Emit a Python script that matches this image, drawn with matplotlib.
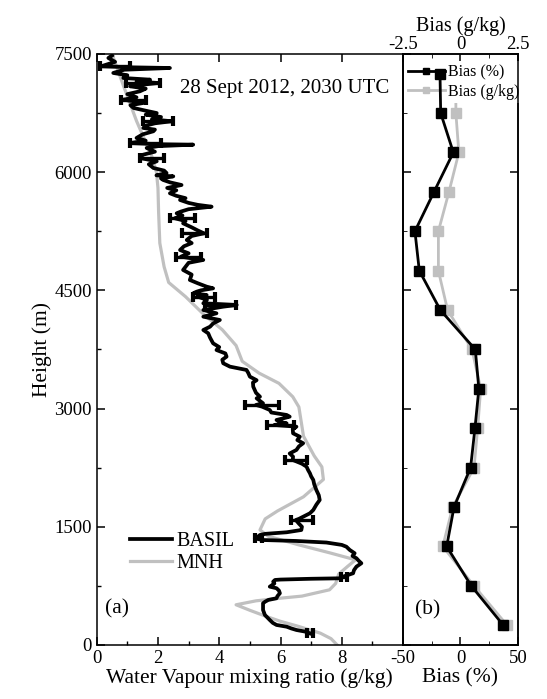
import matplotlib
matplotlib.use("Agg")
import matplotlib.pyplot as plt
import numpy as np

plt.rcParams["font.family"] = ["Liberation Serif", "DejaVu Serif"]
plt.rcParams["font.size"] = 13.5
plt.rcParams["axes.unicode_minus"] = False

# BASIL lidar water vapour profile (height m, mixing ratio g/kg)
basil_h = [7480, 7449, 7400, 7344, 7330, 7322, 7300, 7259, 7230, 7195, 7174, 7150,
           7132, 7110, 7090, 7060, 7026, 6990, 6950, 6920, 6900, 6878, 6850, 6815,
           6780, 6750, 6730, 6700, 6670, 6646, 6620, 6590, 6561, 6540, 6519, 6480,
           6434, 6400, 6370, 6355, 6349, 6330, 6307, 6260, 6220, 6180, 6138, 6100,
           6053, 6020, 5989, 5960, 5947, 5920, 5901, 5870, 5837, 5800, 5770, 5732,
           5700, 5670, 5647, 5610, 5585, 5562, 5530, 5500, 5478, 5450, 5415, 5380,
           5351, 5300, 5260, 5224, 5190, 5139, 5100, 5060, 5012, 4970, 4928, 4900,
           4886, 4850, 4800, 4759, 4700, 4632, 4590, 4547, 4526, 4500, 4483, 4463,
           4441, 4420, 4380, 4336, 4315, 4293, 4251, 4209, 4166, 4124, 4080, 4039,
           3997, 3955, 3900, 3828, 3780, 3743, 3700, 3659, 3620, 3575, 3532, 3490,
           3450, 3405, 3360, 3330, 3278, 3200, 3151, 3130, 3090, 3067, 3046, 3024,
           2982, 2950, 2919, 2897, 2855, 2830, 2813, 2792, 2770, 2740, 2686, 2643,
           2600, 2560, 2520, 2475, 2430, 2390, 2348, 2300, 2263, 2220, 2179, 2140,
           2094, 2040, 1967, 1900, 1840, 1780, 1713, 1671, 1628, 1600, 1586, 1540,
           1500, 1459, 1430, 1410, 1396, 1370, 1354, 1332, 1320, 1300, 1270, 1247,
           1206, 1164, 1130, 1100, 1070, 1037, 994, 950, 910, 867, 846, 840,
           830, 825, 803, 780, 740, 720, 690, 656, 620, 593, 571, 550,
           529, 444, 381, 317, 280, 254, 232, 210, 190, 170, 148]
basil_q = [0.50, 0.38, 0.60, 0.15, 1.20, 2.39, 0.90, 0.54, 1.00, 0.87, 1.74, 1.30,
           2.00, 1.50, 1.09, 1.60, 1.41, 1.00, 1.30, 0.87, 1.20, 1.52, 1.10, 1.20,
           1.60, 1.96, 1.60, 2.10, 1.80, 2.45, 1.90, 1.60, 1.52, 1.90, 1.85, 1.50,
           1.30, 1.60, 1.09, 2.00, 3.15, 2.00, 1.63, 1.90, 1.50, 1.41, 1.96, 1.70,
           1.85, 2.20, 2.28, 1.95, 2.50, 2.10, 2.17, 2.40, 2.77, 2.30, 2.60, 2.39,
           2.60, 2.90, 2.72, 3.00, 3.30, 3.75, 3.00, 2.75, 2.61, 2.80, 2.55, 2.90,
           2.82, 3.10, 3.30, 3.50, 3.10, 2.94, 3.10, 2.85, 2.72, 3.00, 2.75, 3.20,
           3.48, 3.00, 2.90, 2.82, 3.10, 3.04, 3.30, 3.59, 3.80, 3.40, 3.26, 3.15,
           3.59, 3.30, 3.60, 3.48, 4.57, 4.13, 3.48, 3.91, 3.48, 4.02, 3.80, 3.70,
           3.48, 3.64, 3.70, 3.80, 4.00, 3.91, 4.20, 4.24, 4.10, 4.13, 4.35, 4.89,
           4.95, 5.00, 5.22, 5.10, 5.11, 5.20, 5.33, 5.22, 5.35, 5.43, 5.20, 5.40,
           5.65, 5.70, 6.20, 6.30, 5.87, 6.00, 6.20, 5.80, 6.52, 6.40, 6.41, 6.63,
           6.55, 6.74, 6.60, 6.52, 6.30, 6.41, 6.40, 6.70, 6.85, 6.90, 6.96, 7.00,
           7.07, 7.10, 7.17, 7.25, 7.28, 7.17, 7.07, 6.96, 6.74, 6.60, 6.50, 6.60,
           6.70, 6.68, 6.20, 5.50, 5.33, 5.25, 5.16, 5.40, 6.50, 7.50, 8.00, 8.15,
           8.26, 8.42, 8.35, 8.48, 8.55, 8.64, 8.48, 8.40, 8.37, 8.04, 7.94, 7.00,
           6.00, 5.82, 5.76, 5.80, 5.65, 5.87, 5.95, 5.98, 5.90, 5.87, 5.60, 5.50,
           5.43, 5.43, 5.49, 5.65, 5.75, 5.87, 6.20, 6.35, 6.52, 6.80, 6.96]

# selected BASIL uncertainty bars
err_h = [7344, 7132, 6920, 6646, 6370, 6180, 5415, 5224, 4928, 4420, 4315,
         3046, 2792, 2348, 1586, 1354, 867, 148]
err_q = [0.60, 1.50, 1.20, 2.00, 1.60, 1.80, 2.80, 3.20, 3.00, 3.50, 4.05,
         5.40, 6.00, 6.50, 6.70, 5.28, 8.08, 6.96]
err_dq = [0.50, 0.55, 0.40, 0.50, 0.50, 0.40, 0.40, 0.40, 0.40, 0.35, 0.50,
          0.55, 0.45, 0.35, 0.35, 0.12, 0.10, 0.10]

# Meso-NH model profile
mnh_h = [7500, 7100, 6650, 6200, 6000, 5800, 5500, 5100, 4800, 4600, 4420,
         4200, 4000, 3800, 3600, 3450, 3320, 3150, 3020, 2650, 2400, 2260,
         2100, 1880, 1700, 1600, 1460, 1380, 1270, 1170, 1080, 1000, 900,
         780, 700, 620, 590, 560, 510, 440, 360, 300, 240, 150, 80, 0]
mnh_q = [0.50, 0.87, 1.30, 1.80, 1.95, 2.00, 2.02, 2.06, 2.20, 2.35, 2.90,
         3.48, 4.10, 4.55, 4.75, 5.30, 5.95, 6.40, 6.60, 6.75, 7.10, 7.35,
         7.40, 6.75, 5.90, 5.50, 5.33, 5.60, 6.60, 7.60, 8.45, 8.20, 7.90,
         7.80, 7.60, 6.70, 5.90, 5.20, 4.55, 5.00, 5.55, 6.00, 6.55, 7.30, 7.65, 7.85]

# layer-mean bias of MNH against BASIL
bias_h = [7250, 6750, 6250, 5750, 5250, 4750, 4250, 3750,
          3250, 2750, 2250, 1750, 1250, 750, 250]
bias_pct = [-17.8, -17.2, -6.2, -23.0, -39.6, -35.8, -17.5, 12.9,
            16.0, 12.6, 8.8, -5.6, -12.0, 9.4, 37.3]
bias_gkg = [-0.20, -0.20, -0.07, -0.50, -0.96, -0.96, -0.56, 0.50,
            0.88, 0.75, 0.59, -0.34, -0.77, 0.59, 2.03]

GREY = "#c0c0c0"
LABEL = 15.5

fig = plt.figure(figsize=(5.47, 6.99), dpi=100)
ax = fig.add_axes([0.1768, 0.0773, 0.56, 0.8455])
axb = fig.add_axes([0.7367, 0.0773, 0.2102, 0.8455], sharey=ax)

# (a) profiles
ax.plot(mnh_q, mnh_h, color=GREY, lw=2.3, label="MNH", zorder=2)
ax.plot(basil_q, basil_h, color="k", lw=2.7, label="BASIL", zorder=3)
ax.errorbar(err_q, err_h, xerr=err_dq, fmt="none", ecolor="k", elinewidth=2.4,
            capsize=3.5, capthick=3, zorder=4)
ax.set_xlim(0, 10)
ax.set_ylim(0, 7500)
ax.set_xticks([0, 2, 4, 6, 8])
ax.set_xticks([1, 3, 5, 7, 9], minor=True)
ax.set_yticks([0, 1500, 3000, 4500, 6000, 7500])
ax.set_yticks(np.arange(750, 7500, 1500), minor=True)
ax.tick_params(which="both", direction="in", top=True, right=False)
ax.tick_params(which="major", length=6, width=1.1)
ax.tick_params(which="minor", length=3, width=1.0, top=False)
ax.set_xlabel("Water Vapour mixing ratio (g/kg)", fontsize=LABEL, labelpad=1)
ax.set_ylabel("Height (m)", fontsize=LABEL, labelpad=2)
h, l = ax.get_legend_handles_labels()
ax.legend(h[::-1], l[::-1], loc="lower left", bbox_to_anchor=(0.075, 0.104),
          frameon=False, handlelength=2.1, handletextpad=0.2, labelspacing=0.15,
          borderpad=0, fontsize=14.5)
ax.text(2.72, 7068, "28 Sept 2012, 2030 UTC", fontsize=15, va="center")
ax.text(0.27, 460, "(a)", fontsize=15.5, va="center")

# (b) bias, % on the bottom axis and g/kg on the top axis
axt = axb.twiny()
axt.plot(bias_gkg, bias_h, color=GREY, lw=2, marker="s", ms=6.5,
         label="Bias (g/kg)")
axt.set_xlim(-2.5, 2.5)
axt.set_xticks([-2.5, 0, 2.5])
axt.set_xticklabels(["-2.5", "0", "2.5"])
axt.set_xticks([-1.25, 1.25], minor=True)
axt.tick_params(which="both", direction="in", pad=1)
axt.tick_params(which="major", length=6, width=1.1)
axt.tick_params(which="minor", length=3)
axt.set_xlabel("Bias (g/kg)", fontsize=14.5, labelpad=3)

axb.set_zorder(axt.get_zorder() + 1)
axb.patch.set_visible(False)
axb.plot(bias_pct, bias_h, color="k", lw=2, marker="s", ms=6.5, label="Bias (%)")
axb.set_xlim(-50, 50)
axb.set_xticks([-50, 0, 50])
axb.set_xticks([-25, 25], minor=True)
axb.tick_params(axis="y", which="both", labelleft=False, direction="in")
axb.tick_params(axis="y", which="major", left=True, right=True, length=6, width=1.1)
axb.tick_params(axis="y", which="minor", left=True, right=False, length=3)
axb.tick_params(axis="x", which="both", direction="in", top=False)
axb.tick_params(axis="x", which="major", length=6, width=1.1)
axb.tick_params(axis="x", which="minor", length=3)
axb.set_xlabel("Bias (%)", fontsize=LABEL, labelpad=1)
axb.text(-39.6, 450, "(b)", fontsize=15.5, va="center")

# legend sits on the g/kg axes: its white box hides the grey line,
# while the black % series (drawn above) stays visible
lines = axb.get_lines() + axt.get_lines()
leg = axt.legend(lines, [ln.get_label() for ln in lines], loc="upper left",
                 bbox_to_anchor=(0.0, 0.99), frameon=True, fontsize=11.5,
                 handlelength=2.3, handletextpad=0.2, labelspacing=0.2,
                 borderpad=0.2, borderaxespad=0.1, numpoints=1, markerscale=0.7,
                 fancybox=False, framealpha=1, facecolor="white",
                 edgecolor="none")

for a in (ax, axb, axt):
    for sp in a.spines.values():
        sp.set_linewidth(1.1)

fig.savefig("out.png", dpi=100)
